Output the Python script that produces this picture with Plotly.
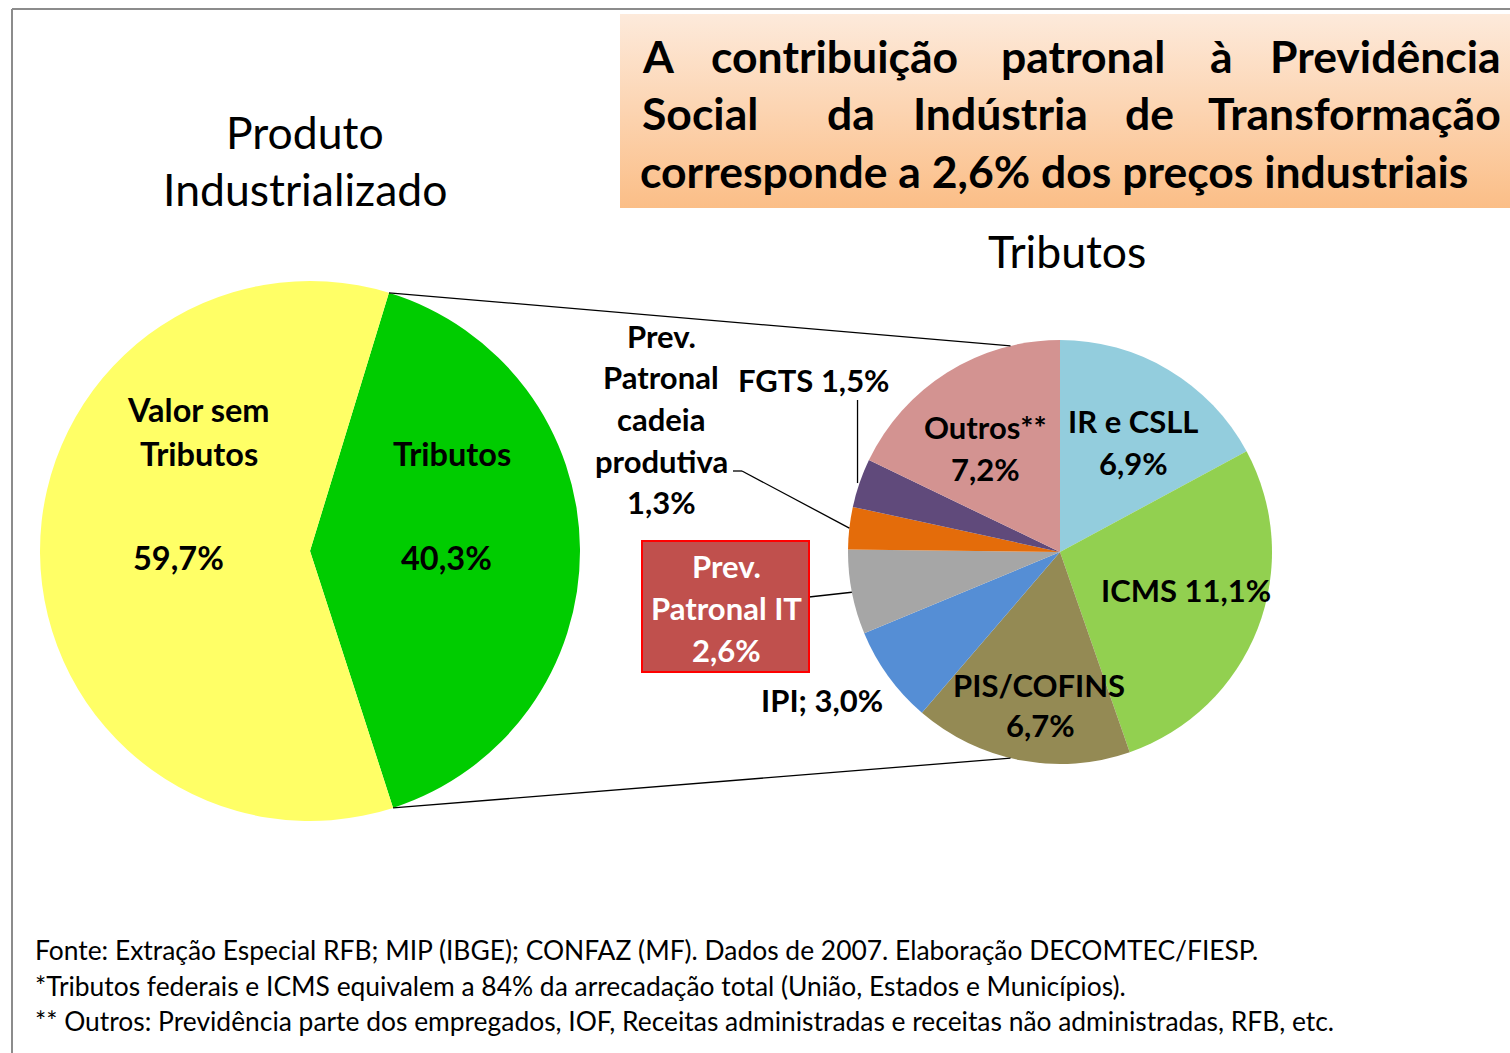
import math
import plotly.graph_objects as go

# ---------------- data ----------------
left_labels = ["Tributos", "Valor sem Tributos"]
left_values = [40.3, 59.7]
left_colors = ["#00CC00", "#FFFF66"]

right_labels = ["IR e CSLL", "ICMS", "PIS/COFINS", "IPI", "Prev. Patronal IT",
                "Prev. Patronal cadeia produtiva", "FGTS", "Outros**"]
right_values = [6.9, 11.1, 6.7, 3.0, 2.6, 1.3, 1.5, 7.2]
right_colors = ["#93CDDD", "#92D050", "#948A54", "#558ED5", "#A6A6A6",
                "#E46C0A", "#604A7B", "#D39391"]

title_lines = [
    ["A", "contribuição", "patronal", "à", "Previdência"],
    ["Social", "da", "Indústria", "de", "Transformação"],
    ["corresponde a 2,6% dos preços industriais"],
]
footer_lines = [
    "Fonte: Extração Especial RFB; MIP (IBGE); CONFAZ (MF). Dados de 2007. Elaboração DECOMTEC/FIESP.",
    "*Tributos federais e ICMS equivalem a 84% da arrecadação total (União, Estados e Municípios).",
    "** Outros: Previdência parte dos empregados, IOF, Receitas administradas e receitas não administradas, RFB, etc.",
]

# ---------------- layout geometry (page pixels) ----------------
W, H = 1510, 1053
FONT = "Lato"
L_C, L_R = (310, 551), 270
R_C, R_R = (1060, 552), 212
L_ROT = 17


def pct(v):
    return f"{v:.1f}".replace(".", ",") + "%"


def dom(c, r):
    return dict(x=[(c[0] - r) / W, (c[0] + r) / W],
                y=[1 - (c[1] + r) / H, 1 - (c[1] - r) / H])


def pt(c, r, ang_deg):
    a = math.radians(ang_deg)
    return c[0] + r * math.sin(a), c[1] - r * math.cos(a)


fig = go.Figure()

# gradient title box (drawn on hidden pixel axis)
bx0, bx1, by0, by1 = 620, 1510, 14, 208
fig.add_trace(go.Scatter(
    x=[bx0, bx1, bx1, bx0, bx0], y=[by0, by0, by1, by1, by0],
    mode="lines", line=dict(width=0), fill="toself",
    fillgradient=dict(type="vertical", start=by0, stop=by1,
                      colorscale=[[0, "#FDEADB"], [1, "#FBBE87"]]),
    hoverinfo="skip", showlegend=False))

fig.add_trace(go.Pie(
    labels=left_labels, values=left_values, sort=False, direction="clockwise",
    rotation=L_ROT, marker=dict(colors=left_colors, line=dict(width=0)),
    textinfo="none", hoverinfo="label+value", domain=dom(L_C, L_R),
    showlegend=False))

fig.add_trace(go.Pie(
    labels=right_labels, values=right_values, sort=False, direction="clockwise",
    rotation=0, marker=dict(colors=right_colors, line=dict(width=0)),
    textinfo="none", hoverinfo="label+value", domain=dom(R_C, R_R),
    showlegend=False))

shapes = []
ann = []


def line(x0, y0, x1, y1, color="black", width=1.3):
    shapes.append(dict(type="line", xref="x", yref="y", x0=x0, y0=y0, x1=x1, y1=y1,
                       line=dict(color=color, width=width), layer="above"))


def text(x, y, s, size, bold=False, color="black", xanchor="center"):
    ann.append(dict(x=x, y=y, xref="x", yref="y", text=f"<b>{s}</b>" if bold else s,
                    showarrow=False, xanchor=xanchor, yanchor="middle",
                    font=dict(family=FONT, size=size, color=color)))


# page border (top & left)
line(12, 9, W, 9, "#8C8C8C", 2)
line(12, 9, 12, H, "#8C8C8C", 2)

# connector lines between pies (from the Tributos slice edges)
tot_l = sum(left_values)
a0 = L_ROT
a1 = L_ROT + 360 * left_values[0] / tot_l
p0 = pt(L_C, L_R, a0)
p1 = pt(L_C, L_R, a1)
q0 = pt(R_C, R_R, -13.5)
q1 = pt(R_C, R_R, 193.5)
line(p0[0], p0[1], q0[0], q0[1])
line(p1[0], p1[1], q1[0], q1[1])

# slice mid angles on right pie
tot_r = sum(right_values)
mids = []
cum = 0
for v in right_values:
    mids.append(360 * (cum + v / 2) / tot_r)
    cum += v

# leader lines
fx, fy = pt(R_C, R_R, mids[6])
line(fx - 2, 400, fx - 2, fy)
cx, cy = pt(R_C, R_R, mids[5])
line(733, 471, 742, 471)
line(742, 471, cx, cy)
ix, iy = pt(R_C, R_R, mids[4])
line(809, 597, ix, iy)

# red box for Prev. Patronal IT
shapes.append(dict(type="rect", xref="x", yref="y", x0=642, y0=541, x1=809, y1=672,
                   fillcolor="#C0504D", line=dict(color="#FF0000", width=2), layer="above"))

# titles
text(305, 131, "Produto", 44.5)
text(305, 188, "Industrializado", 44.5)
text(1067, 250, "Tributos", 44.5)

# title box words (justified)
TS = 44.5
tl_y = [55, 112, 170]
line1_x = [640, 834, 1083, 1221, 1503]
line2_x = [640, 851, 1000, 1149, 1503]
for words, xs, y in ((title_lines[0], line1_x, tl_y[0]), (title_lines[1], line2_x, tl_y[1])):
    for i, (w_, x) in enumerate(zip(words, xs)):
        xa = "left" if i == 0 else ("right" if i == len(words) - 1 else "center")
        text(x, y, w_, TS, True, xanchor=xa)
text(638, tl_y[2], title_lines[2][0], TS, True, xanchor="left")

# left pie labels
LS = 31
LL = 32.5
text(198, 409, "Valor sem", LL, True)
text(199, 453, left_labels[0], LL, True)
text(178, 557, pct(left_values[1]), LL, True)
text(452, 453, left_labels[0], LL, True)
text(446, 557, pct(left_values[0]), LL, True)

# right pie labels
text(1133, 421, right_labels[0], LS, True)
text(1133, 463, pct(right_values[0]), LS, True)
text(1186, 590, f"{right_labels[1]} {pct(right_values[1])}", LS, True)
text(1039, 685, right_labels[2], LS, True)
text(1040, 725, pct(right_values[2]), LS, True)
text(822, 700, f"{right_labels[3]}; {pct(right_values[3])}", LS, True)
text(726, 566, "Prev.", LS, True, "white")
text(726, 608, "Patronal IT", LS, True, "white")
text(726, 650, pct(right_values[4]), LS, True, "white")
for s, y in zip(["Prev.", "Patronal", "cadeia", "produtiva", pct(right_values[5])],
                [336, 377, 419, 461, 502]):
    text(661, y, s, LS, True)
text(814, 380, f"{right_labels[6]} {pct(right_values[6])}", LS, True)
text(985, 427, right_labels[7], LS, True)
text(985, 469, pct(right_values[7]), LS, True)

# footer
for s, y in zip(footer_lines, [950, 986, 1021]):
    text(33, y, s, 26.4, False, xanchor="left")

fig.update_layout(
    width=W, height=H, margin=dict(l=0, r=0, t=0, b=0),
    paper_bgcolor="white", plot_bgcolor="white",
    xaxis=dict(range=[0, W], visible=False, domain=[0, 1], fixedrange=True),
    yaxis=dict(range=[H, 0], visible=False, domain=[0, 1], fixedrange=True),
    shapes=shapes, annotations=ann, showlegend=False,
)

fig.write_html(
    "out.html",
    config={"displayModeBar": False},
    post_script="document.body.style.margin='0';"
                "document.documentElement.style.overflow='hidden';",
)
